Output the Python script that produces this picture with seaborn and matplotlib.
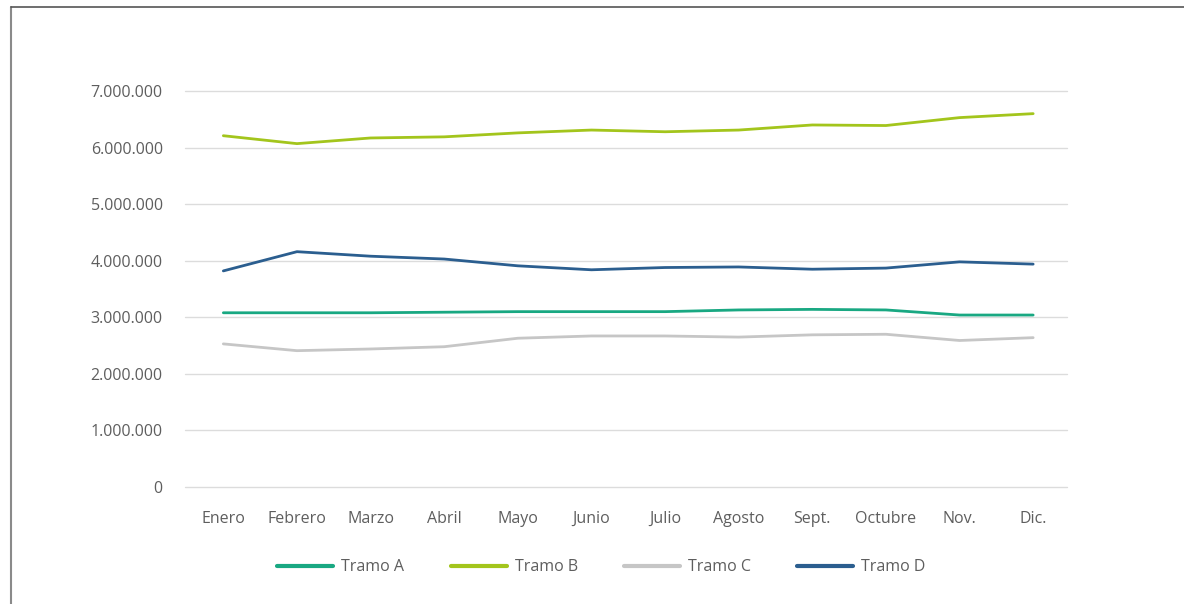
import matplotlib
matplotlib.use('Agg')
import matplotlib.pyplot as plt
import matplotlib.ticker as mticker
from matplotlib.lines import Line2D
import pandas as pd
import seaborn as sns

# Meses y series
meses = ['Enero', 'Febrero', 'Marzo', 'Abril', 'Mayo', 'Junio', 'Julio', 'Agosto', 'Sept.', 'Octubre', 'Nov.', 'Dic.']
tramo_a = [3080000, 3080000, 3080000, 3090000, 3100000, 3100000, 3100000, 3130000, 3140000, 3130000, 3040000, 3040000]
tramo_b = [6210000, 6070000, 6170000, 6190000, 6260000, 6310000, 6280000, 6310000, 6400000, 6390000, 6530000, 6600000]
tramo_c = [2530000, 2410000, 2440000, 2480000, 2630000, 2670000, 2670000, 2650000, 2690000, 2700000, 2590000, 2640000]
tramo_d = [3820000, 4160000, 4080000, 4030000, 3910000, 3840000, 3880000, 3890000, 3850000, 3870000, 3980000, 3940000]

series = {'Tramo A': tramo_a, 'Tramo B': tramo_b, 'Tramo C': tramo_c, 'Tramo D': tramo_d}
colores = {'Tramo A': '#19a882', 'Tramo B': '#a3c51c', 'Tramo C': '#c6c6c6', 'Tramo D': '#2b5e8f'}

# Pasar a formato largo para seaborn
filas = []
for nombre, valores in series.items():
    for i, v in enumerate(valores):
        filas.append({'mes': i, 'valor': v, 'tramo': nombre})
df = pd.DataFrame(filas)

sns.set_style('white')
plt.rcParams['font.family'] = ['Open Sans', 'DejaVu Sans']

fig = plt.figure(figsize=(11.84, 6.04), dpi=100)
ax = fig.add_axes([0.1563, 0.1937, 0.9012 - 0.1563, 0.8493 - 0.1937])

sns.lineplot(data=df, x='mes', y='valor', hue='tramo', palette=colores,
             linewidth=2.0, ax=ax, legend=False)

ax.set_xlim(-0.52, 11.46)
ax.set_ylim(0, 7000000)
ax.set_yticks(range(0, 7000001, 1000000))
ax.yaxis.set_major_formatter(mticker.FuncFormatter(lambda v, p: f'{int(v):,}'.replace(',', '.')))
ax.set_xticks(range(12))
ax.set_xticklabels(meses)
ax.tick_params(axis='both', length=0, labelsize=11.5, labelcolor='#5e5e5e')
ax.tick_params(axis='y', pad=16)
ax.tick_params(axis='x', pad=17)
ax.set_xlabel('')
ax.set_ylabel('')
ax.grid(axis='y', color='#dcdcdc', linewidth=1)
for g in ax.get_ygridlines():
    g.set_clip_on(False)
ax.set_axisbelow(True)
sns.despine(ax=ax, left=True, bottom=True)

# Leyenda centrada debajo
handles = [Line2D([0], [0], color=colores[n], linewidth=3) for n in series]
fig.legend(handles, list(series.keys()), loc='center', bbox_to_anchor=(0.508, 0.061),
           ncol=4, frameon=False, fontsize=11.5, handlelength=3.5, columnspacing=2.9,
           handletextpad=0.5, labelcolor='#5e5e5e')

# Marco del recuadro (izquierda y arriba)
fig.add_artist(Line2D([11 / 1184, 11 / 1184], [0, 1 - 7 / 604], color='#8a8a8a', linewidth=1.5))
fig.add_artist(Line2D([11 / 1184, 1], [1 - 7 / 604, 1 - 7 / 604], color='#555555', linewidth=1.2))

fig.savefig('out.png', dpi=100)
